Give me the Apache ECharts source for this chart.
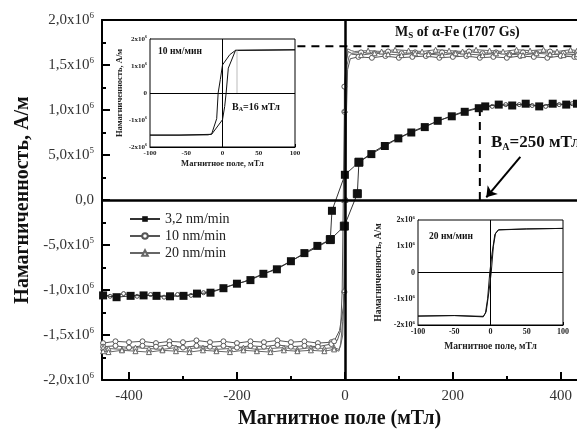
<!DOCTYPE html>
<html><head><meta charset="utf-8">
<script src="https://cdn.jsdelivr.net/npm/echarts@6/dist/echarts.min.js"></script>
<style>html,body{margin:0;padding:0;background:#fff}#c{width:577px;height:434px}</style>
</head><body><div id="c"></div>
<script>
const SERIF = '"Liberation Serif","DejaVu Serif",serif';

// ---------- main axes ----------
const xMin = -450, xMax = 430;
const xTickValues = [-400, -200, 0, 200, 400];
const xMinorTickValues = [-300, -100, 100, 300];
const yTickValues = [-2e6, -1.5e6, -1e6, -5e5, 0, 5e5, 1e6, 1.5e6, 2e6];
const yTickLabels = ['-2,0x10^6', '-1,5x10^6', '-1,0x10^6', '-5,0x10^5', '0,0', '5,0x10^5', '1,0x10^6', '1,5x10^6', '2,0x10^6'];

// ---------- 3,2 nm/min loop ----------
const f32Down = [430,410,385,360,335,310,285,260,248,222,198,172,148,123,99,74,49,26,0,-24,-27,-51,-75,-100,-126,-151,-175,-200,-225,-249,-274,-299,-324,-349,-373,-397,-423,-448];
const m32Down = [1.07e6,1.06e6,1.07e6,1.04e6,1.07e6,1.05e6,1.06e6,1.04e6,1.02e6,0.98e6,0.93e6,0.88e6,0.81e6,0.75e6,0.685e6,0.60e6,0.51e6,0.42e6,0.28e6,-0.12e6,-0.44e6,-0.51e6,-0.59e6,-0.68e6,-0.77e6,-0.82e6,-0.89e6,-0.93e6,-0.98e6,-1.03e6,-1.04e6,-1.065e6,-1.07e6,-1.065e6,-1.06e6,-1.065e6,-1.08e6,-1.06e6];
const f32Up = [-448,-435,-410,-385,-360,-335,-310,-285,-262,-237,-212,-188,-163,-138,-113,-88,-63,-38,-27,-1,23,26,49,74,99,124,149,174,199,224,249,273,298,323,347,372,397,421,430];
const m32Up = [-1.05e6,-1.07e6,-1.04e6,-1.07e6,-1.05e6,-1.08e6,-1.05e6,-1.06e6,-1.03e6,-1.0e6,-0.95e6,-0.91e6,-0.85e6,-0.79e6,-0.72e6,-0.64e6,-0.56e6,-0.48e6,-0.44e6,-0.29e6,0.07e6,0.42e6,0.52e6,0.61e6,0.69e6,0.76e6,0.82e6,0.88e6,0.94e6,0.99e6,1.03e6,1.04e6,1.06e6,1.06e6,1.05e6,1.04e6,1.06e6,1.07e6,1.06e6];

// ---------- 10 nm/min loop ----------
const f10Down = [430,405,380,355,330,305,280,255,230,205,180,155,130,105,80,55,30,12,6,3,-1,-1,-3,-5,-8,-14,-25,-50,-75,-100,-125,-150,-175,-200,-225,-250,-275,-300,-325,-350,-375,-400,-425,-448];
const m10Down = [1.64e6,1.63e6,1.65e6,1.63e6,1.64e6,1.62e6,1.64e6,1.63e6,1.65e6,1.63e6,1.64e6,1.62e6,1.64e6,1.63e6,1.65e6,1.63e6,1.64e6,1.63e6,1.65e6,1.55e6,1.26e6,0.98e6,0,-1.0e6,-1.45e6,-1.56e6,-1.58e6,-1.59e6,-1.57e6,-1.58e6,-1.56e6,-1.58e6,-1.57e6,-1.59e6,-1.57e6,-1.58e6,-1.56e6,-1.58e6,-1.57e6,-1.59e6,-1.57e6,-1.58e6,-1.57e6,-1.59e6];
const f10Up = [-448,-425,-400,-375,-350,-325,-300,-275,-250,-225,-200,-175,-150,-125,-100,-75,-50,-25,-20,-10,-3,-1,1,3,5,10,25,50,75,100,125,150,175,200,225,250,275,300,325,350,375,400,425,430];
const m10Up = [-1.63e6,-1.62e6,-1.64e6,-1.62e6,-1.63e6,-1.61e6,-1.64e6,-1.62e6,-1.63e6,-1.62e6,-1.64e6,-1.62e6,-1.63e6,-1.61e6,-1.63e6,-1.62e6,-1.63e6,-1.60e6,-1.57e6,-1.45e6,-1.2e6,-1.02e6,0,1.0e6,1.45e6,1.57e6,1.59e6,1.58e6,1.60e6,1.58e6,1.59e6,1.60e6,1.58e6,1.59e6,1.60e6,1.58e6,1.59e6,1.58e6,1.60e6,1.59e6,1.58e6,1.60e6,1.59e6,1.59e6];

// ---------- 20 nm/min loop ----------
const f20Down = [430,418,393,368,343,318,293,268,243,218,193,168,143,118,93,68,43,18,12,5,2,0,-1,-2,-4,-8,-11,-20,-38,-63,-88,-113,-138,-163,-188,-213,-238,-263,-288,-313,-338,-363,-388,-413,-438,-448];
const m20Down = [1.66e6,1.67e6,1.65e6,1.67e6,1.66e6,1.67e6,1.65e6,1.66e6,1.67e6,1.65e6,1.66e6,1.67e6,1.65e6,1.66e6,1.67e6,1.65e6,1.66e6,1.65e6,1.66e6,1.68e6,1.5e6,1.0e6,0,-1.0e6,-1.5e6,-1.62e6,-1.66e6,-1.64e6,-1.65e6,-1.64e6,-1.66e6,-1.64e6,-1.65e6,-1.66e6,-1.64e6,-1.65e6,-1.66e6,-1.64e6,-1.65e6,-1.64e6,-1.66e6,-1.65e6,-1.64e6,-1.66e6,-1.65e6,-1.64e6];
const f20Up = [-448,-438,-413,-388,-363,-338,-313,-288,-263,-238,-213,-188,-163,-138,-113,-88,-63,-38,-20,-11,-8,-4,-1,1,2,4,8,12,30,55,80,105,130,155,180,205,230,255,280,305,330,355,380,405,430];
const m20Up = [-1.68e6,-1.69e6,-1.67e6,-1.68e6,-1.69e6,-1.67e6,-1.68e6,-1.69e6,-1.67e6,-1.68e6,-1.69e6,-1.67e6,-1.68e6,-1.69e6,-1.67e6,-1.68e6,-1.67e6,-1.68e6,-1.66e6,-1.68e6,-1.6e6,-1.35e6,-1.0e6,0,1.0e6,1.5e6,1.60e6,1.62e6,1.61e6,1.63e6,1.62e6,1.61e6,1.63e6,1.62e6,1.61e6,1.63e6,1.62e6,1.61e6,1.63e6,1.62e6,1.61e6,1.63e6,1.62e6,1.61e6,1.62e6];

// ---------- reference values ----------
const msValue = 1.707e6;      // Ms of alpha-Fe, 1707 Gs
const msStart = -88;          // dashed line begins at the inset edge
const baField = 250;          // B_A = 250 mT
const baTop = 1.03e6;
const arrowFrom = [325, 0.48e6];
const arrowTo = [262, 0.03e6];

// ---------- inset 1: 10 nm/min ----------
const in1FieldDown = [100, 60, 18, 10, 0, -3, -6, -8, -15, -20, -60, -100];
const in1MDown = [1.60e6, 1.59e6, 1.58e6, 1.42e6, 1.04e6, 0.5e6, 0, -0.95e6, -1.52e6, -1.55e6, -1.56e6, -1.56e6];
const in1FieldUp = [-100, -60, -15, 0, 3, 5, 8, 18, 60, 100];
const in1MUp = [-1.56e6, -1.56e6, -1.53e6, -0.99e6, -0.5e6, 0, 0.92e6, 1.58e6, 1.59e6, 1.60e6];
const in1BA = 20, in1BATop = 1.58e6;

// ---------- inset 2: 20 nm/min ----------
const in2FieldDown = [100, 50, 11, 6, 2, -1, -4, -7, -10, -50, -100];
const in2MDown = [1.68e6, 1.66e6, 1.62e6, 1.45e6, 0.7e6, 0, -1.0e6, -1.55e6, -1.69e6, -1.64e6, -1.66e6];
const in2FieldUp = [-100, -50, -10, -6, -2, 1, 4, 7, 11, 50, 100];
const in2MUp = [-1.66e6, -1.64e6, -1.67e6, -1.5e6, -0.7e6, 0, 1.0e6, 1.5e6, 1.63e6, 1.66e6, 1.68e6];

const insetYTicks = [-2e6, -1e6, 0, 1e6, 2e6];
const insetYLabels = ['-2x10^6', '-1x10^6', '0', '1x10^6', '2x10^6'];
const insetXTicks = [-100, -50, 0, 50, 100];

// ---------- helpers ----------
const pairs = (xs, ys) => xs.map((x, i) => [x, ys[i]]);
function richLabel(s) {
  const p = s.split('^');
  return p.length > 1 ? '{a|' + p[0] + '}{s|' + p[1] + '}' : '{a|' + p[0] + '}';
}
function lookup(vals, labels) {
  return v => { const i = vals.findIndex(t => Math.abs(t - v) < 1); return i < 0 ? '' : richLabel(labels[i]); };
}
function items32Up(xs, ys) {
  return xs.map((x, i) => {
    const a = Math.abs(x);
    if (a < 30) return { value: [x, ys[i]], symbol: 'rect', symbolSize: 8, itemStyle: { color: '#111', borderColor: '#111' } };
    if (a >= 255) return { value: [x, ys[i]], symbol: 'circle', symbolSize: 4 };
    return { value: [x, ys[i]], symbol: 'none' };
  });
}
function itemsOpen(xs, ys) {
  return xs.map((x, i) => {
    const a = Math.abs(x);
    return (a >= 20 || a <= 1) ? { value: [x, ys[i]] } : { value: [x, ys[i]], symbol: 'none' };
  });
}

const chart = echarts.init(document.getElementById('c'), null, { renderer: 'canvas' });

const mainYRich = {
  a: { fontFamily: SERIF, fontSize: 15, color: '#333' },
  s: { fontFamily: SERIF, fontSize: 9, color: '#333', padding: [0, 0, 9, 0] }
};
const insRich = (fs) => ({
  a: { fontFamily: SERIF, fontSize: fs, fontWeight: 'bold', color: '#222' },
  s: { fontFamily: SERIF, fontSize: fs - 3, fontWeight: 'bold', color: '#222', padding: [0, 0, 5, 0] }
});

function insetXAxis(grid, fs, nameGap) {
  return {
    gridIndex: grid, type: 'value', min: -100, max: 100, interval: 50,
    axisLine: { onZero: false, lineStyle: { color: '#000', width: 1 } },
    axisTick: { inside: true, length: 3, lineStyle: { color: '#000' } },
    minorTick: { show: true, splitNumber: 2, length: 2, lineStyle: { color: '#000' } },
    axisLabel: { fontFamily: SERIF, fontSize: fs, fontWeight: 'bold', color: '#222', margin: 3 },
    splitLine: { show: false },
    name: 'Магнитное поле, мТл', nameLocation: 'middle', nameGap: nameGap,
    nameTextStyle: { fontFamily: SERIF, fontSize: fs + 1.5, fontWeight: 'bold', color: '#222' }
  };
}
function insetYAxis(grid, fs, nameGap) {
  return {
    gridIndex: grid, type: 'value', min: -2e6, max: 2e6, interval: 1e6,
    axisLine: { onZero: false, lineStyle: { color: '#000', width: 1 } },
    axisTick: { inside: true, length: 3, lineStyle: { color: '#000' } },
    minorTick: { show: true, splitNumber: 2, length: 2, lineStyle: { color: '#000' } },
    axisLabel: { formatter: lookup(insetYTicks, insetYLabels), rich: insRich(fs), margin: 3 },
    splitLine: { show: false },
    name: 'Намагниченность, А/м', nameLocation: 'middle', nameGap: nameGap, nameRotate: 90,
    nameTextStyle: { fontFamily: SERIF, fontSize: fs + 1.5, fontWeight: 'bold', color: '#222' }
  };
}

const zeroMark = (w) => ({
  silent: true, symbol: 'none', label: { show: false },
  lineStyle: { color: '#000', width: w, type: 'solid' },
  emphasis: { disabled: true },
  data: [{ xAxis: 0 }, { yAxis: 0 }]
});

const option = {
  animation: false,
  backgroundColor: '#fff',
  grid: [
    { left: 102, top: 20, right: 0, bottom: 54 },
    { left: 150, top: 39, width: 145, height: 108, show: true, backgroundColor: '#fff', borderColor: '#000', borderWidth: 1, z: 5 },
    { left: 418, top: 220, width: 145, height: 105, show: true, backgroundColor: '#fff', borderColor: '#000', borderWidth: 1, z: 5 }
  ],
  xAxis: [
    {
      gridIndex: 0, type: 'value', min: xMin, max: xMax, position: 'bottom',
      axisLine: { onZero: false, lineStyle: { color: '#000', width: 2 } },
      axisTick: { inside: true, length: 8, lineStyle: { color: '#000', width: 2 }, customValues: xTickValues },
      axisLabel: { customValues: xTickValues, fontFamily: SERIF, fontSize: 15, color: '#333', margin: 9 },
      splitLine: { show: false },
      name: 'Магнитное поле (мТл)', nameLocation: 'middle', nameGap: 27,
      nameTextStyle: { fontFamily: SERIF, fontSize: 20, fontWeight: 'bold', color: '#111' }
    },
    {
      gridIndex: 0, type: 'value', min: xMin, max: xMax, position: 'bottom',
      axisLine: { show: false, onZero: false },
      axisTick: { inside: true, length: 4, lineStyle: { color: '#000', width: 2 }, customValues: xMinorTickValues },
      axisLabel: { show: false }, splitLine: { show: false }
    },
    {
      gridIndex: 0, type: 'value', min: xMin, max: xMax, position: 'top',
      axisLine: { onZero: false, lineStyle: { color: '#000', width: 2 } },
      axisTick: { show: false }, axisLabel: { show: false }, splitLine: { show: false }
    },
    insetXAxis(1, 7, 12),
    insetXAxis(2, 8, 17)
  ],
  yAxis: [
    {
      gridIndex: 0, type: 'value', min: -2e6, max: 2e6, interval: 5e5,
      axisLine: { onZero: false, lineStyle: { color: '#000', width: 2 } },
      axisTick: { inside: true, length: 8, lineStyle: { color: '#000', width: 2 } },
      minorTick: { show: true, splitNumber: 2, length: 4, lineStyle: { color: '#000', width: 2 } },
      axisLabel: { formatter: lookup(yTickValues, yTickLabels), rich: mainYRich, margin: 8 },
      splitLine: { show: false },
      name: 'Намагниченность, А/м', nameLocation: 'middle', nameGap: 68, nameRotate: 90,
      nameTextStyle: { fontFamily: SERIF, fontSize: 20, fontWeight: 'bold', color: '#111' }
    },
    insetYAxis(1, 7, 26),
    insetYAxis(2, 8, 34)
  ],
  legend: {
    orient: 'vertical', left: 124, top: 207, itemWidth: 30, itemHeight: 7, itemGap: 3,
    textStyle: { fontFamily: SERIF, fontSize: 14, color: '#222' },
    data: ['3,2 nm/min', '10 nm/min', '20 nm/min'],
    selectedMode: false
  },
  series: [
    {
      name: '3,2 nm/min', type: 'line', xAxisIndex: 0, yAxisIndex: 0, z: 4,
      data: pairs(f32Down, m32Down), symbol: 'rect', symbolSize: 8,
      itemStyle: { color: '#111' }, lineStyle: { color: '#333', width: 1 },
      markLine: zeroMark(2.5)
    },
    {
      name: '3,2 up', type: 'line', xAxisIndex: 0, yAxisIndex: 0, z: 3,
      data: items32Up(f32Up, m32Up), symbol: 'circle', symbolSize: 4,
      itemStyle: { color: '#fff', borderColor: '#444', borderWidth: 1 }, lineStyle: { color: '#333', width: 1 }
    },
    {
      name: '10 nm/min', type: 'line', xAxisIndex: 0, yAxisIndex: 0, z: 3,
      data: itemsOpen(f10Down, m10Down), symbol: 'circle', symbolSize: 5,
      itemStyle: { color: '#fff', borderColor: '#555', borderWidth: 1 }, lineStyle: { color: '#555', width: 1 }
    },
    {
      name: '10 up', type: 'line', xAxisIndex: 0, yAxisIndex: 0, z: 3,
      data: itemsOpen(f10Up, m10Up), symbol: 'circle', symbolSize: 5,
      itemStyle: { color: '#fff', borderColor: '#555', borderWidth: 1 }, lineStyle: { color: '#555', width: 1 }
    },
    {
      name: '20 nm/min', type: 'line', xAxisIndex: 0, yAxisIndex: 0, z: 3,
      data: itemsOpen(f20Down, m20Down), symbol: 'triangle', symbolSize: 5,
      itemStyle: { color: '#fff', borderColor: '#666', borderWidth: 1 }, lineStyle: { color: '#666', width: 1 }
    },
    {
      name: '20 up', type: 'line', xAxisIndex: 0, yAxisIndex: 0, z: 3,
      data: itemsOpen(f20Up, m20Up), symbol: 'triangle', symbolSize: 5,
      itemStyle: { color: '#fff', borderColor: '#666', borderWidth: 1 }, lineStyle: { color: '#666', width: 1 }
    },
    {
      name: 'Ms', type: 'line', xAxisIndex: 0, yAxisIndex: 0, z: 2, silent: true,
      data: [[msStart, msValue], [xMax, msValue]], symbol: 'none',
      lineStyle: { color: '#000', width: 2, type: [8, 6] }
    },
    {
      name: 'BA', type: 'line', xAxisIndex: 0, yAxisIndex: 0, z: 2, silent: true,
      data: [[baField, 0], [baField, baTop]], symbol: 'none',
      lineStyle: { color: '#000', width: 2, type: [8, 6] },
      markLine: {
        silent: true, symbol: ['none', 'arrow'], symbolSize: 10, label: { show: false },
        lineStyle: { color: '#000', width: 2, type: 'solid' },
        data: [[{ coord: arrowFrom }, { coord: arrowTo }]]
      }
    },
    // inset 1
    {
      name: 'in1 down', type: 'line', xAxisIndex: 3, yAxisIndex: 1, z: 6, silent: true,
      data: pairs(in1FieldDown, in1MDown), symbol: 'none', lineStyle: { color: '#111', width: 1 },
      markLine: zeroMark(1)
    },
    {
      name: 'in1 up', type: 'line', xAxisIndex: 3, yAxisIndex: 1, z: 6, silent: true,
      data: pairs(in1FieldUp, in1MUp), symbol: 'none', lineStyle: { color: '#111', width: 1 }
    },
    {
      name: 'in1 BA', type: 'line', xAxisIndex: 3, yAxisIndex: 1, z: 6, silent: true,
      data: [[in1BA, 0], [in1BA, in1BATop]], symbol: 'none', lineStyle: { color: '#bbb', width: 1 }
    },
    // inset 2
    {
      name: 'in2 down', type: 'line', xAxisIndex: 4, yAxisIndex: 2, z: 6, silent: true,
      data: pairs(in2FieldDown, in2MDown), symbol: 'none', lineStyle: { color: '#111', width: 1 },
      markLine: zeroMark(1)
    },
    {
      name: 'in2 up', type: 'line', xAxisIndex: 4, yAxisIndex: 2, z: 6, silent: true,
      data: pairs(in2FieldUp, in2MUp), symbol: 'none', lineStyle: { color: '#111', width: 1 }
    }
  ],
  graphic: [
    { type: 'text', left: 395, top: 25, z: 20, silent: true,
      style: { text: 'M{sub|S} of α-Fe (1707 Gs)', fontFamily: SERIF, fontSize: 14, fontWeight: 'bold', fill: '#111',
        rich: { sub: { fontFamily: SERIF, fontSize: 9, fontWeight: 'bold', fill: '#111', padding: [7, 0, 0, 0] } } } },
    { type: 'text', left: 491, top: 134, z: 20, silent: true,
      style: { text: 'B{sub|A}=250 мТл', fontFamily: SERIF, fontSize: 17, fontWeight: 'bold', fill: '#111',
        rich: { sub: { fontFamily: SERIF, fontSize: 10, fontWeight: 'bold', fill: '#111', padding: [9, 0, 0, 0] } } } },
    { type: 'text', left: 158, top: 47, z: 20, silent: true,
      style: { text: '10 нм/мин', fontFamily: SERIF, fontSize: 9.5, fontWeight: 'bold', fill: '#111' } },
    { type: 'text', left: 232, top: 102, z: 20, silent: true,
      style: { text: 'B{sub|A}=16 мТл', fontFamily: SERIF, fontSize: 10, fontWeight: 'bold', fill: '#111',
        rich: { sub: { fontFamily: SERIF, fontSize: 6, fontWeight: 'bold', fill: '#111', padding: [5, 0, 0, 0] } } } },
    { type: 'text', left: 429, top: 232, z: 20, silent: true,
      style: { text: '20 нм/мин', fontFamily: SERIF, fontSize: 9.5, fontWeight: 'bold', fill: '#111' } }
  ]
};
chart.setOption(option);
</script>
</body></html>
